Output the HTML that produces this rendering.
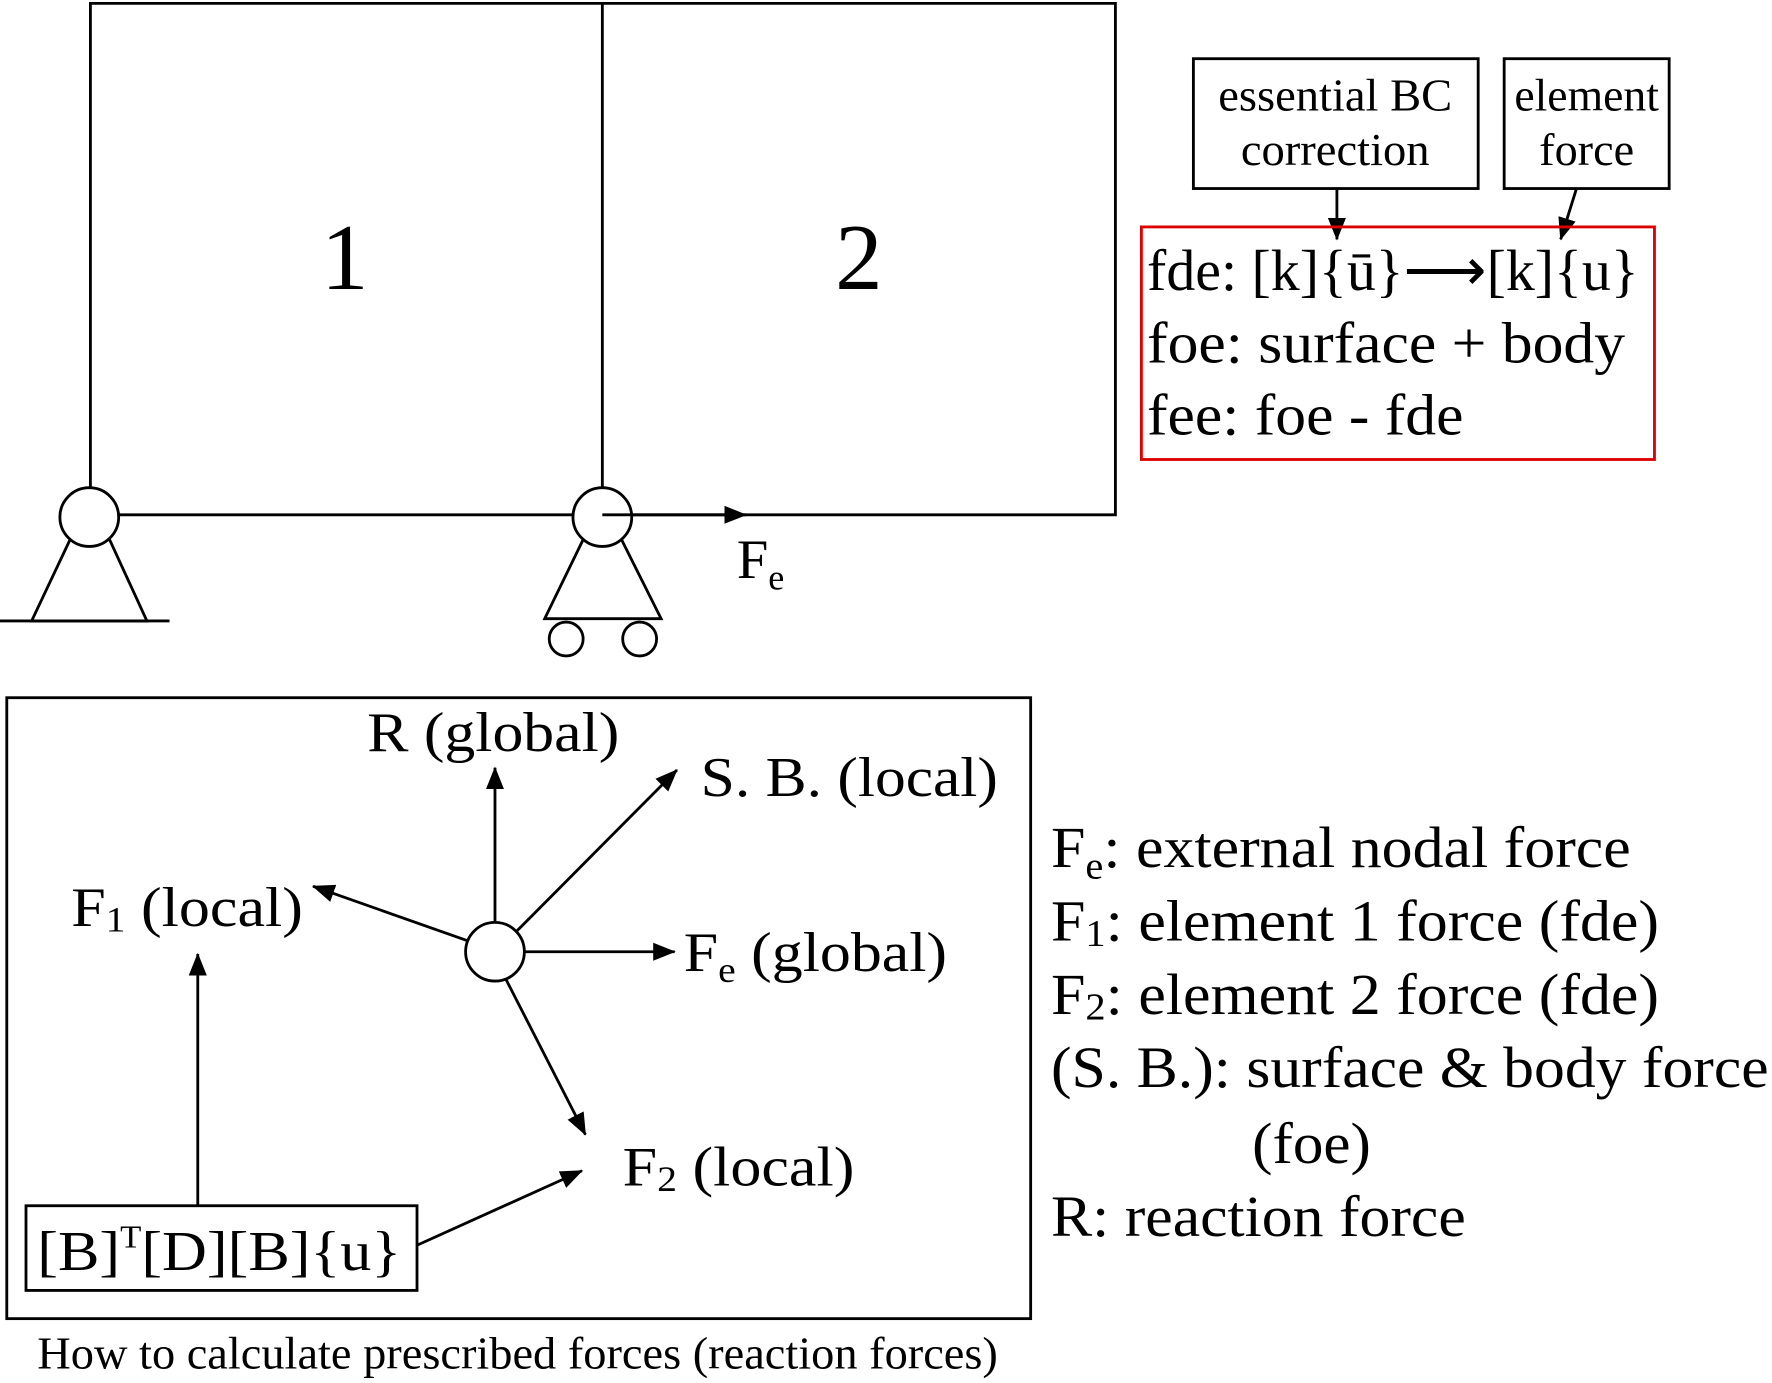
<!DOCTYPE html>
<html><head><meta charset="utf-8"><style>
html,body{margin:0;padding:0;background:#fff;}
svg{display:block;}
text{font-family:"Liberation Serif",serif;fill:#000;}
</style></head><body>
<svg width="1772" height="1383" viewBox="0 0 1568 1225" preserveAspectRatio="none">
<defs>
<marker id="ahb" markerWidth="20" markerHeight="16" refX="19" refY="8" orient="auto" markerUnits="userSpaceOnUse" viewBox="0 0 20 16"><path d="M0,0 L20,8 L0,16 z" fill="#000"/></marker></defs>
<g stroke="#000" stroke-width="2.5" fill="none">
<polyline points="80,432 80,3 987,3 987,456 105,456"/>
<line x1="533" y1="3" x2="533" y2="432"/>
<circle cx="79" cy="458" r="26" fill="#fff"/>
<polyline points="62,478 28,550 130,550 97,478"/>
<line x1="0" y1="550" x2="150" y2="550"/>
<circle cx="533" cy="458" r="26" fill="#fff"/>
<polyline points="516,478 482,548 585,548 550,478"/>
<circle cx="501" cy="566" r="15"/>
<circle cx="566" cy="566" r="15"/>
<line x1="533" y1="456" x2="660" y2="456" marker-end="url(#ahb)"/>
</g>
<text x="305" y="256" font-size="84" text-anchor="middle">1</text>
<text x="760" y="256" font-size="84" text-anchor="middle">2</text>
<text x="652" y="512" font-size="50">F<tspan font-size="32" dy="10">e</tspan></text>

<g stroke="#000" stroke-width="2.5" fill="none">
<rect x="1056" y="52" width="252" height="115"/>
<rect x="1331" y="52" width="146" height="115"/>
<line x1="1183" y1="167" x2="1183" y2="212" marker-end="url(#ahb)"/>
<line x1="1395" y1="167" x2="1381" y2="212" marker-end="url(#ahb)"/>
<rect x="1010" y="201" width="454" height="206" stroke="#d00"/>
</g>
<text x="1078" y="98" font-size="40" textLength="207" lengthAdjust="spacingAndGlyphs">essential BC</text>
<text x="1098" y="146" font-size="40" textLength="167" lengthAdjust="spacingAndGlyphs">correction</text>
<text x="1340" y="98" font-size="40" textLength="128" lengthAdjust="spacingAndGlyphs">element</text>
<text x="1362" y="146" font-size="40" textLength="84" lengthAdjust="spacingAndGlyphs">force</text>
<text x="1015" y="257" font-size="52" textLength="435" lengthAdjust="spacingAndGlyphs">fde: [k]{ū}⟶[k]{u}</text>
<text x="1015" y="321" font-size="52" textLength="423" lengthAdjust="spacingAndGlyphs">foe: surface + body</text>
<text x="1015" y="385" font-size="52" textLength="280" lengthAdjust="spacingAndGlyphs">fee: foe - fde</text>

<g stroke="#000" stroke-width="2.5" fill="none">
<rect x="6" y="618" width="906" height="550"/>
<circle cx="438" cy="843" r="26"/>
<line x1="438" y1="817" x2="438" y2="680" marker-end="url(#ahb)"/>
<line x1="457" y1="825" x2="599" y2="682" marker-end="url(#ahb)"/>
<line x1="413" y1="833" x2="277" y2="785" marker-end="url(#ahb)"/>
<line x1="464" y1="843" x2="597" y2="843" marker-end="url(#ahb)"/>
<line x1="448" y1="868" x2="518" y2="1005" marker-end="url(#ahb)"/>
<rect x="23" y="1068" width="346" height="75"/>
<line x1="175" y1="1068" x2="175" y2="845" marker-end="url(#ahb)"/>
<line x1="369" y1="1103" x2="515" y2="1037" marker-end="url(#ahb)"/>
</g>
<text x="325" y="665" font-size="50" textLength="223" lengthAdjust="spacingAndGlyphs">R (global)</text>
<text x="620" y="705" font-size="50" textLength="263" lengthAdjust="spacingAndGlyphs">S. B. (local)</text>
<text x="63" y="820" font-size="50" textLength="205" lengthAdjust="spacingAndGlyphs">F<tspan font-size="32" dy="5">1</tspan><tspan dy="-5"> (local)</tspan></text>
<text x="605" y="860" font-size="50" textLength="233" lengthAdjust="spacingAndGlyphs">F<tspan font-size="32" dy="10">e</tspan><tspan dy="-10"> (global)</tspan></text>
<text x="551" y="1050" font-size="50" textLength="205" lengthAdjust="spacingAndGlyphs">F<tspan font-size="32" dy="5">2</tspan><tspan dy="-5"> (local)</tspan></text>
<text x="33" y="1125" font-size="50" textLength="322" lengthAdjust="spacingAndGlyphs">[B]<tspan font-size="28" dy="-20">T</tspan><tspan dy="20">[D][B]{u}</tspan></text>

<g font-size="52">
<text x="930" y="768" textLength="513" lengthAdjust="spacingAndGlyphs">F<tspan font-size="34" dy="10">e</tspan><tspan dy="-10">: external nodal force</tspan></text>
<text x="930" y="833" textLength="538" lengthAdjust="spacingAndGlyphs">F<tspan font-size="34" dy="5">1</tspan><tspan dy="-5">: element 1 force (fde)</tspan></text>
<text x="930" y="898" textLength="538" lengthAdjust="spacingAndGlyphs">F<tspan font-size="34" dy="5">2</tspan><tspan dy="-5">: element 2 force (fde)</tspan></text>
<text x="930" y="963" textLength="635" lengthAdjust="spacingAndGlyphs">(S. B.): surface &amp; body force</text>
<text x="1108" y="1030" textLength="105" lengthAdjust="spacingAndGlyphs">(foe)</text>
<text x="930" y="1095" textLength="367" lengthAdjust="spacingAndGlyphs">R: reaction force</text>
</g>
<text x="33" y="1212" font-size="40" textLength="850" lengthAdjust="spacingAndGlyphs">How to calculate prescribed forces (reaction forces)</text>
</svg>
</body></html>
